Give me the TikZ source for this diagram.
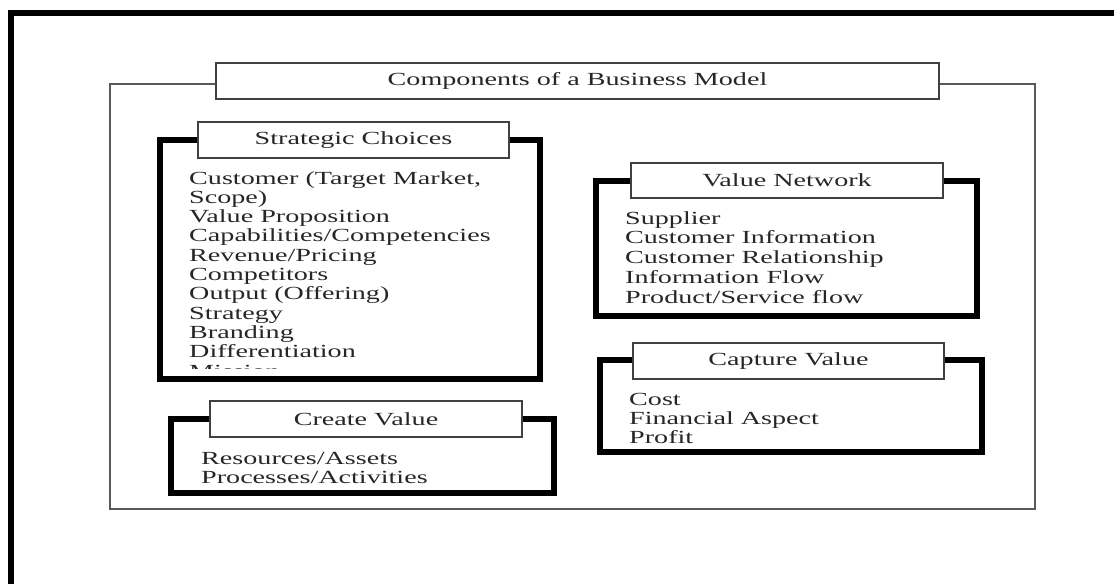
\documentclass[tikz,border=0pt]{standalone}
\usepackage{fontspec}
\setmainfont{Liberation Serif}
\usepackage{graphicx}
\newcommand{\hstretch}[1]{\scalebox{1.52}[1]{#1}}
\tikzset{
  x=1pt, y=-1pt,
  outerframe/.style={draw=black!65, line width=2pt, inner sep=0pt},
  thickframe/.style={draw=black, line width=6pt, inner sep=0pt},
  titlebox/.style={draw=black!75, line width=1.5pt, fill=white, inner sep=0pt,
    text=black!85, font=\fontsize{18.5}{19.3}\selectfont},
  listtext/.style={text=black!85, inner sep=0pt, anchor=base west,
    font=\fontsize{18.5}{19.3}\selectfont},
}
\begin{document}
\begin{tikzpicture}
\useasboundingbox (0,0) rectangle (1114,584);
% black page border (top and left)
\coordinate (bl) at (11,584);
\coordinate (tl) at (11,13);
\coordinate (tr) at (1114,13);
\draw[line width=6pt] (bl) -- (tl) -- (tr);

% outer grey frame and main title
\node[outerframe, minimum width=925pt, minimum height=425pt] (outer) at (572.5,296.5) {};
\node[titlebox, minimum width=723pt, minimum height=36pt] (title) at (577.5,81)
  {\hstretch{Components of a Business Model}};

% Strategic Choices
\node[thickframe, minimum width=380pt, minimum height=239pt] (scF) at (350,259.5) {};
\begin{scope}
  \clip (163,143) rectangle (537,368);
  \node[listtext] (scL) at (189,184) {\hstretch{\begin{tabular}[t]{@{}l@{}}
    Customer (Target Market,\\ Scope)\\ Value Proposition\\ Capabilities/Competencies\\
    Revenue/Pricing\\ Competitors\\ Output (Offering)\\ Strategy\\ Branding\\
    Differentiation\\ Mission\end{tabular}}};
\end{scope}
\node[titlebox, minimum width=311pt, minimum height=36pt] (scT) at (353.5,140)
  {\hstretch{Strategic Choices}};

% Value Network
\node[thickframe, minimum width=381pt, minimum height=135pt] (vnF) at (786.5,248.5) {};
\node[titlebox, minimum width=312pt, minimum height=35pt] (vnT) at (787,180.5)
  {\hstretch{Value Network}};
\node[listtext, font=\fontsize{18.5}{19.75}\selectfont] (vnL) at (625,224)
  {\hstretch{\begin{tabular}[t]{@{}l@{}}
    Supplier\\ Customer Information\\ Customer Relationship\\ Information Flow\\
    Product/Service flow\end{tabular}}};

% Capture Value
\node[thickframe, minimum width=382pt, minimum height=92pt] (cvF) at (791,406) {};
\node[titlebox, minimum width=311pt, minimum height=36pt] (cvT) at (788.5,361)
  {\hstretch{Capture Value}};
\node[listtext] (cvL) at (629,405)
  {\hstretch{\begin{tabular}[t]{@{}l@{}}Cost\\ Financial Aspect\\ Profit\end{tabular}}};

% Create Value
\node[thickframe, minimum width=383pt, minimum height=74pt] (crF) at (362.5,456) {};
\node[titlebox, minimum width=312pt, minimum height=36pt] (crT) at (366,419)
  {\hstretch{Create Value}};
\node[listtext] (crL) at (201,464)
  {\hstretch{\begin{tabular}[t]{@{}l@{}}Resources/Assets\\ Processes/Activities\end{tabular}}};
\end{tikzpicture}
\end{document}
